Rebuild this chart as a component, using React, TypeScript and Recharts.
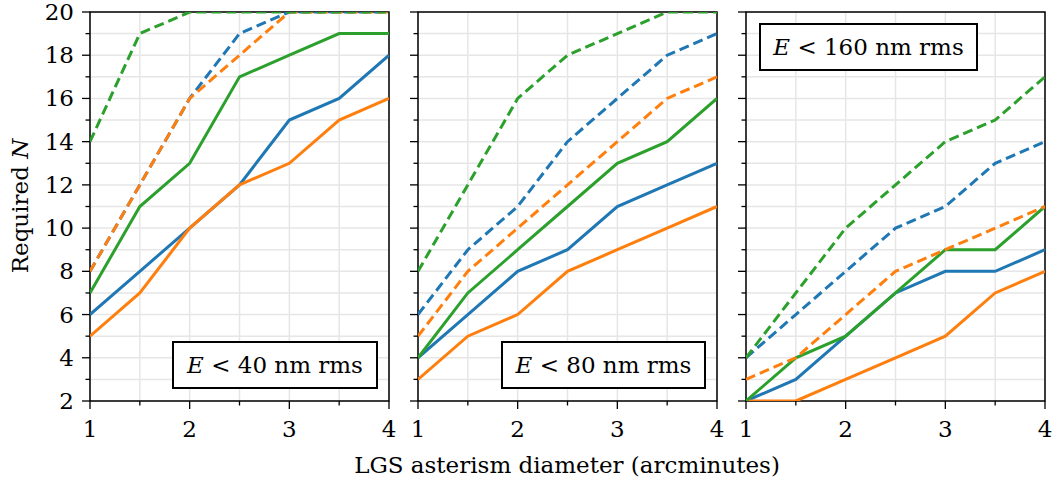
import { CartesianGrid, Line, LineChart, ReferenceArea, XAxis, YAxis } from "recharts";

// asterism diameter (arcminutes)
const diam = [1, 1.5, 2, 2.5, 3, 3.5, 4];
const xTicks = [1, 1.5, 2, 2.5, 3, 3.5, 4];
const yTicks = [2, 3, 4, 5, 6, 7, 8, 9, 10, 11, 12, 13, 14, 15, 16, 17, 18, 19, 20];

// E < 40 nm rms
const e40BlueSolid = [6, 8, 10, 12, 15, 16, 18];
const e40OrangeSolid = [5, 7, 10, 12, 13, 15, 16];
const e40GreenSolid = [7, 11, 13, 17, 18, 19, 19];
const e40BlueDash = [8, 12, 16, 19, 20, 20, 20];
const e40OrangeDash = [8, 12, 16, 18, 20, 20, 20];
const e40GreenDash = [14, 19, 20, 20, 20, 20, 20];

// E < 80 nm rms
const e80BlueSolid = [4, 6, 8, 9, 11, 12, 13];
const e80OrangeSolid = [3, 5, 6, 8, 9, 10, 11];
const e80GreenSolid = [4, 7, 9, 11, 13, 14, 16];
const e80BlueDash = [6, 9, 11, 14, 16, 18, 19];
const e80OrangeDash = [5, 8, 10, 12, 14, 16, 17];
const e80GreenDash = [8, 12, 16, 18, 19, 20, 20];

// E < 160 nm rms
const e160BlueSolid = [2, 3, 5, 7, 8, 8, 9];
const e160OrangeSolid = [2, 2, 3, 4, 5, 7, 8];
const e160GreenSolid = [2, 4, 5, 7, 9, 9, 11];
const e160BlueDash = [4, 6, 8, 10, 11, 13, 14];
const e160OrangeDash = [3, 4, 6, 8, 9, 10, 11];
const e160GreenDash = [4, 7, 10, 12, 14, 15, 17];

const BLUE = "#1f77b4";
const ORANGE = "#ff7f0e";
const GREEN = "#2ca02c";
const FONT = "'DejaVu Serif', serif";
const FS = 23;

type Row = { x: number; bs: number; os: number; gs: number; bd: number; od: number; gd: number };

const rows = (bs: number[], os: number[], gs: number[], bd: number[], od: number[], gd: number[]): Row[] =>
  diam.map((x, i) => ({ x, bs: bs[i], os: os[i], gs: gs[i], bd: bd[i], od: od[i], gd: gd[i] }));

const data40 = rows(e40BlueSolid, e40OrangeSolid, e40GreenSolid, e40BlueDash, e40OrangeDash, e40GreenDash);
const data80 = rows(e80BlueSolid, e80OrangeSolid, e80GreenSolid, e80BlueDash, e80OrangeDash, e80GreenDash);
const data160 = rows(e160BlueSolid, e160OrangeSolid, e160GreenSolid, e160BlueDash, e160OrangeDash, e160GreenDash);

function XTick(props: any) {
  const { x, y, payload } = props;
  const major = Number.isInteger(payload.value);
  return (
    <g>
      <line x1={x} x2={x} y1={y} y2={y + (major ? 8 : 4.5)} stroke="#000" strokeWidth={1.3} />
      {major && (
        <text x={x} y={y + 36} textAnchor="middle" fontFamily={FONT} fontSize={FS} fill="#000">
          {payload.value}
        </text>
      )}
    </g>
  );
}

function YTick(props: any) {
  const { x, y, payload, showLabels } = props;
  const major = payload.value % 2 === 0;
  return (
    <g>
      <line x1={x} x2={x - (major ? 8 : 4.5)} y1={y} y2={y} stroke="#000" strokeWidth={1.3} />
      {major && showLabels && (
        <text x={x - 16} y={y} textAnchor="end" dominantBaseline="central" fontFamily={FONT} fontSize={FS} fill="#000">
          {payload.value}
        </text>
      )}
    </g>
  );
}

const PLOT_W = 299;

function Panel({ data, plotLeft, axisW, showLabels }: { data: Row[]; plotLeft: number; axisW: number; showLabels: boolean }) {
  const solid = { type: "linear" as const, dot: false, activeDot: false, strokeWidth: 3, isAnimationActive: false };
  const dashed = { ...solid, strokeDasharray: "10 5" };
  return (
    <div style={{ position: "absolute", left: plotLeft - axisW, top: 0 }}>
      <LineChart width={axisW + PLOT_W + 12} height={487} data={data} margin={{ top: 12, right: 12, bottom: 0, left: 0 }}>
        <CartesianGrid stroke="#e6e6e6" strokeWidth={1.5} />
        <XAxis
          dataKey="x"
          type="number"
          domain={[1, 4]}
          ticks={xTicks}
          interval={0}
          allowDataOverflow
          height={86}
          axisLine={false}
          tickLine={false}
          tickSize={0}
          tickMargin={0}
          tick={(p: any) => <XTick {...p} />}
        />
        <YAxis
          type="number"
          domain={[2, 20]}
          ticks={yTicks}
          interval={0}
          allowDataOverflow
          width={axisW}
          axisLine={false}
          tickLine={false}
          tickSize={0}
          tickMargin={0}
          tick={(p: any) => <YTick {...p} showLabels={showLabels} />}
        />
        <Line dataKey="bs" stroke={BLUE} {...solid} />
        <Line dataKey="os" stroke={ORANGE} {...solid} />
        <Line dataKey="gs" stroke={GREEN} {...solid} />
        <Line dataKey="bd" stroke={BLUE} {...dashed} />
        <Line dataKey="od" stroke={ORANGE} {...dashed} />
        <Line dataKey="gd" stroke={GREEN} {...dashed} />
        <ReferenceArea x1={1} x2={4} y1={2} y2={20} fill="none" fillOpacity={0} stroke="#000" strokeWidth={1.5} />
      </LineChart>
    </div>
  );
}

function Note({ x, y, w, value }: { x: number; y: number; w: number; value: string }) {
  return (
    <g>
      <rect x={x} y={y} width={w} height={46} fill="#fff" stroke="#000" strokeWidth={2} />
      <text x={x + w / 2} y={y + 23} textAnchor="middle" dominantBaseline="central" fontFamily={FONT} fontSize={FS} fill="#000">
        <tspan fontStyle="italic">E</tspan> {"<"} {value} nm rms
      </text>
    </g>
  );
}

export default function App() {
  return (
    <div style={{ position: "absolute", left: 0, top: 0, width: 1059, height: 487, background: "#fff" }}>
      <Panel data={data40} plotLeft={90} axisW={90} showLabels />
      <Panel data={data80} plotLeft={418} axisW={20} showLabels={false} />
      <Panel data={data160} plotLeft={746} axisW={20} showLabels={false} />
      <svg width={1059} height={487} style={{ position: "absolute", left: 0, top: 0, pointerEvents: "none" }}>
        <text transform="translate(28,206) rotate(-90)" textAnchor="middle" fontFamily={FONT} fontSize={FS} fill="#000">
          Required <tspan fontStyle="italic">N</tspan>
        </text>
        <text x={567} y={473} textAnchor="middle" fontFamily={FONT} fontSize={FS} fill="#000">
          LGS asterism diameter (arcminutes)
        </text>
        <Note x={173} y={342} w={204} value="40" />
        <Note x={502} y={342} w={203} value="80" />
        <Note x={760} y={24} w={217} value="160" />
      </svg>
    </div>
  );
}
